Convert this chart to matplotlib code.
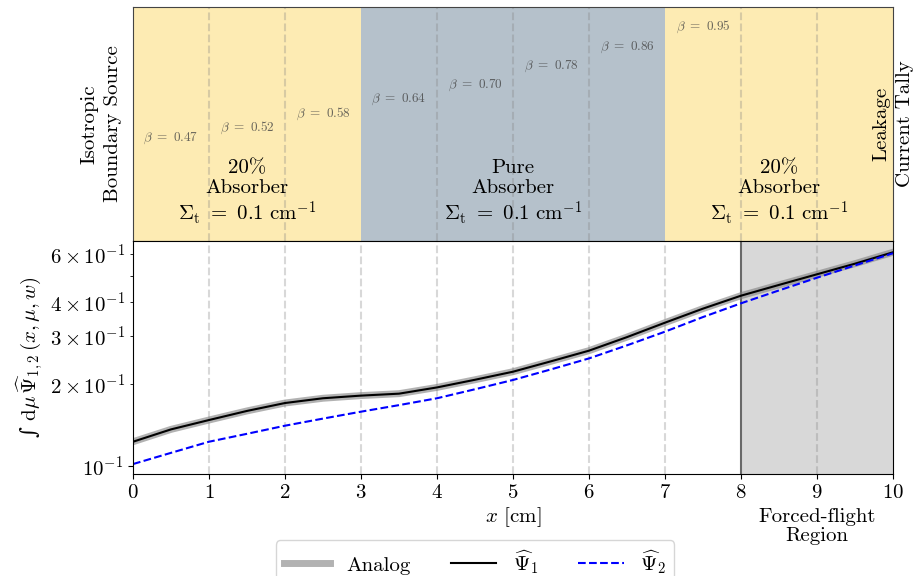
import matplotlib
matplotlib.use("Agg")
import matplotlib.pyplot as plt

plt.rcParams["font.family"] = "serif"
plt.rcParams["font.serif"] = ["cmr10"]
plt.rcParams["mathtext.fontset"] = "cm"
plt.rcParams["axes.formatter.use_mathtext"] = True
plt.rcParams["axes.unicode_minus"] = True

# flux estimates
x = [0, 0.5, 1, 1.5, 2, 2.5, 3, 3.5, 4, 4.5, 5,
     5.5, 6, 6.5, 7, 7.5, 8, 8.5, 9, 9.5, 10]
analog = [0.1225, 0.136, 0.1472, 0.159, 0.170, 0.177, 0.181, 0.184, 0.194, 0.207, 0.2216,
          0.242, 0.2648, 0.297, 0.3356, 0.378, 0.4217, 0.462, 0.5055, 0.553, 0.609]
psi1 = [0.1225, 0.136, 0.1472, 0.159, 0.170, 0.177, 0.181, 0.184, 0.194, 0.207, 0.2216,
        0.242, 0.2648, 0.297, 0.3356, 0.378, 0.4217, 0.462, 0.5055, 0.553, 0.609]
psi2 = [0.1014, 0.1115, 0.1225, 0.131, 0.1403, 0.149, 0.158, 0.167, 0.177, 0.191, 0.2066,
        0.226, 0.248, 0.277, 0.311, 0.352, 0.3954, 0.441, 0.491, 0.545, 0.604]

# slab regions
region_edges = [0, 3, 7, 10]
region_names = ["20%\nAbsorber", "Pure\nAbsorber", "20%\nAbsorber"]
region_colors = ["#fdebb3", "#b5c1cb", "#fdebb3"]

beta_x = [0.5, 1.5, 2.5, 3.5, 4.5, 5.5, 6.5, 7.5]
beta = [0.47, 0.52, 0.58, 0.64, 0.70, 0.78, 0.86, 0.95]

fig = plt.figure(figsize=(9.16, 5.76), dpi=100)
ax_top = fig.add_axes([0.1452, 0.5816, 0.8297, 0.4062])
ax = fig.add_axes([0.1452, 0.1766, 0.8297, 0.405])

# --- top panel: geometry sketch
ax_top.set_xlim(0, 10)
ax_top.set_ylim(0, 1)
for i, name in enumerate(region_names):
    lo, hi = region_edges[i], region_edges[i + 1]
    ax_top.axvspan(lo, hi, color=region_colors[i], lw=0)
    ax_top.text((lo + hi) / 2, 0.205,
                name + "\n" + r"$\Sigma_\mathrm{t}\ =\ 0.1\ \mathrm{cm}^{-1}$",
                ha="center", va="center", fontsize=15, linespacing=1.1)
for xv in range(1, 10):
    if xv in region_edges:
        continue
    ax_top.axvline(xv, color="gray", ls="--", alpha=0.3, lw=1.5)
for bx, b in zip(beta_x, beta):
    ax_top.text(bx, b, rf"$\beta\ =\ {b:.2f}$", ha="center", va="top",
                fontsize=9.5, color="#444444", alpha=0.8)
ax_top.text(-0.42, 0.5, "Isotropic\nBoundary Source", rotation=90,
            ha="center", va="center", fontsize=15, linespacing=1.4, clip_on=False)
ax_top.text(10.0, 0.5, "Leakage\nCurrent Tally", rotation=90,
            ha="center", va="center", fontsize=15, linespacing=1.4, clip_on=False)
ax_top.set_xticks([])
ax_top.set_yticks([])
for sp in ax_top.spines.values():
    sp.set_color("#444444")

# --- bottom panel: flux
ax.axvspan(8, 10, color="gray", alpha=0.3, lw=0)
ax.axvline(8, color="dimgray", lw=1.5)
for xv in [1, 2, 3, 4, 5, 6, 7, 9]:
    ax.axvline(xv, color="gray", ls="--", alpha=0.3, lw=1.5)

ax.plot(x, analog, color="gray", lw=5, alpha=0.6, label="Analog")
ax.plot(x, psi1, color="black", lw=1.5, label=r"$\widehat{\Psi}_1$")
ax.plot(x, psi2, color="blue", lw=1.5, ls="--", label=r"$\widehat{\Psi}_2$")

ax.set_yscale("log")
ax.set_ylim(0.093, 0.67)
ax.set_xlim(0, 10)
ax.set_xticks(range(0, 11))
ax.tick_params(axis="both", which="both", labelsize=15)
ax.set_xlabel(r"$x$ [cm]", fontsize=15, labelpad=2)
ax.set_ylabel("\u222b " + r"$\mathrm{d}\mu\,\widehat{\Psi}_{1,2}\,(x, \mu, w)$",
              fontsize=15, family=["DejaVu Serif"])
ax.text(9, -0.145, "Forced-flight\nRegion", transform=ax.get_xaxis_transform(),
        ha="center", va="top", fontsize=15, linespacing=1.05)

fig.legend(*ax.get_legend_handles_labels(), loc="upper center",
           bbox_to_anchor=(0.5186, 0.08), ncol=3, fontsize=15,
           handlelength=2.2, handletextpad=0.8, columnspacing=1.9)

fig.savefig("out.png", dpi=100)
